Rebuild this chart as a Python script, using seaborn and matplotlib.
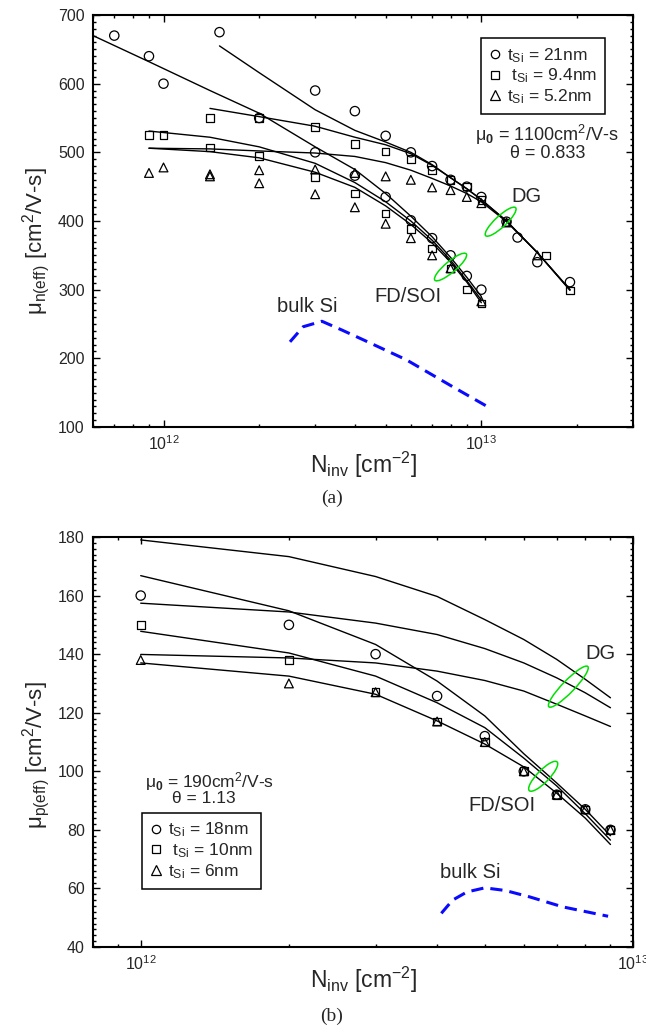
import numpy as np
import matplotlib
matplotlib.use("Agg")
import matplotlib.pyplot as plt
import matplotlib.ticker as mticker
import matplotlib.transforms as mtransforms
from matplotlib.patches import Ellipse
from matplotlib.lines import Line2D
import seaborn as sns

# ---------------- (a) electron mobility ----------------
# measured points, double-gate devices
a_dg21_N = [1.5e12, 3e12, 4e12, 5e12, 6e12, 7e12, 8e12, 9e12, 1e13, 1.2e13, 1.3e13, 1.5e13, 1.9e13]
a_dg21_mu = [675, 590, 560, 524, 500, 480, 460, 450, 435, 399, 376, 340, 311]
a_dg94_N = [1.4e12, 2e12, 3e12, 4e12, 5e12, 6e12, 7e12, 8e12, 9e12, 1e13, 1.2e13, 1.6e13, 1.9e13]
a_dg94_mu = [550, 550, 537, 512, 501, 490, 474, 460, 450, 431, 398, 350, 299]
a_dg52_N = [1.4e12, 2e12, 3e12, 4e12, 5e12, 6e12, 7e12, 8e12, 9e12, 1e13, 1.2e13, 1.5e13]
a_dg52_mu = [468, 474, 475, 470, 465, 460, 449, 445, 435, 426, 398, 350]
# measured points, FD/SOI devices
a_fd21_N = [7e11, 9e11, 1e12, 2e12, 3e12, 4e12, 5e12, 6e12, 7e12, 8e12, 9e12, 1e13]
a_fd21_mu = [670, 640, 600, 550, 500, 466, 435, 401, 375, 350, 320, 300]
a_fd94_N = [9e11, 1e12, 1.4e12, 2e12, 3e12, 4e12, 5e12, 6e12, 7e12, 8e12, 9e12, 1e13]
a_fd94_mu = [525, 525, 507, 495, 464, 440, 411, 388, 360, 331, 300, 280]
a_fd52_N = [9e11, 1e12, 1.4e12, 2e12, 3e12, 4e12, 5e12, 6e12, 7e12, 8e12, 1e13]
a_fd52_mu = [470, 478, 465, 455, 439, 420, 396, 375, 350, 331, 283]
# model curves
a_fit_dg21_N = [1.5e12, 2e12, 3e12, 4e12, 5e12, 6e12, 7e12, 8e12, 9e12, 1e13, 1.2e13, 1.5e13, 1.9e13]
a_fit_dg21_mu = [655, 616, 562, 532, 515, 500, 482, 463, 447, 431, 400, 354, 300]
a_fit_dg94_N = [1.4e12, 2e12, 3e12, 4e12, 5e12, 6e12, 7e12, 8e12, 9e12, 1e13, 1.2e13, 1.5e13, 1.9e13]
a_fit_dg94_mu = [564, 552, 538, 522, 511, 498, 481, 463, 447, 431, 400, 354, 300]
a_fit_dg52_N = [9e11, 1.4e12, 2e12, 3e12, 4e12, 5e12, 6e12, 7e12, 8e12, 9e12, 1e13, 1.2e13, 1.5e13, 1.9e13]
a_fit_dg52_mu = [506, 505, 502, 499, 494, 485, 474, 462, 451, 440, 428, 399, 354, 299]
a_fit_fd21_N = [6e11, 9e11, 1.4e12, 2e12, 3e12, 4e12, 5e12, 6e12, 7e12, 8e12, 9e12, 1e13]
a_fit_fd21_mu = [670, 632, 590, 557, 508, 475, 440, 407, 377, 347, 318, 290]
a_fit_fd94_N = [9e11, 1.4e12, 2e12, 3e12, 4e12, 5e12, 6e12, 7e12, 8e12, 9e12, 1e13]
a_fit_fd94_mu = [531, 522, 508, 484, 456, 428, 400, 372, 343, 313, 285]
a_fit_fd52_N = [9e11, 1.4e12, 2e12, 3e12, 4e12, 5e12, 6e12, 7e12, 8e12, 9e12, 1e13]
a_fit_fd52_mu = [506, 501, 492, 471, 449, 422, 395, 368, 340, 311, 281]
# universal bulk curve
a_bulk_N = [2.5e12, 2.75e12, 3.15e12, 3.65e12, 4.25e12, 5.8e12, 8.1e12, 1.07e13]
a_bulk_mu = [224, 246, 254, 241, 227, 198, 159, 127]
a_labels = ["t$_{\\mathrm{Si}}$ = 21nm", " t$_{\\mathrm{Si}}$ = 9.4nm", "t$_{\\mathrm{Si}}$ = 5.2nm"]

# ---------------- (b) hole mobility ----------------
b_N = [1e12, 2e12, 3e12, 4e12, 5e12, 6e12, 7e12, 8e12, 9e12]
b_18_mu = [160, 150, 140, 125.7, 112, 100, 92, 87, 80]
b_10_mu = [150, 138, 127, 117, 110, 100, 92, 87, 80]
b_6_mu = [138, 130, 127, 117, 110, 100, 92, 87, 80]
b_fit_dg18 = [179, 173.3, 166.5, 159.7, 151.8, 145, 138.2, 131.4, 125.1]
b_fit_dg10 = [157.4, 154.4, 150.6, 146.7, 141.9, 137, 131.9, 126.8, 121.7]
b_fit_dg6 = [139.9, 138.7, 137, 134.2, 131, 127.4, 122.9, 118.9, 115.3]
b_fit_fd18 = [166.8, 154.8, 143.3, 130.8, 118.9, 106, 96, 87, 78]
b_fit_fd10 = [147.8, 140.4, 132.5, 123.4, 114.9, 104.5, 95, 85.5, 76.5]
b_fit_fd6 = [137, 132.5, 126.3, 117.2, 109.3, 101.5, 92.5, 84, 75]
b_bulk_N = [4.08e12, 4.3e12, 4.6e12, 5e12, 5.5e12, 6.17e12, 7.2e12, 8.9e12]
b_bulk_mu = [51.5, 56, 58.8, 60.2, 59.3, 57.1, 53.7, 50.5]
b_labels = ["t$_{\\mathrm{Si}}$ = 18nm", " t$_{\\mathrm{Si}}$ = 10nm", "t$_{\\mathrm{Si}}$ = 6nm"]

GREEN = "#00e000"
BLUE = "#0a0aff"

sns.set_theme(style="ticks")
plt.rcParams["font.family"] = ["Liberation Sans", "DejaVu Sans"]
plt.rcParams["mathtext.fontset"] = "custom"
plt.rcParams["mathtext.rm"] = "Liberation Sans"
plt.rcParams["mathtext.it"] = "Liberation Sans:italic"
plt.rcParams["mathtext.bf"] = "Liberation Sans:bold"
plt.rcParams["axes.linewidth"] = 1.5

fig = plt.figure(figsize=(6.46, 10.32), dpi=100)
ax_a = fig.add_axes([93 / 646, 1 - 427 / 1032, 540 / 646, 412 / 1032])
ax_b = fig.add_axes([93 / 646, 1 - 947 / 1032, 540 / 646, 410 / 1032])

MK = dict(o=45, s=30)
MK["^"] = 40


def markers(ax, x, y, m):
    sns.scatterplot(x=x, y=y, ax=ax, marker=m, s=MK[m], facecolor="none",
                    edgecolor="black", linewidth=0.9, zorder=3)


def curve(ax, x, y):
    sns.lineplot(x=x, y=y, ax=ax, color="black", lw=1.0, estimator=None,
                 sort=False, zorder=2)


def bulk(ax, x, y):
    sns.lineplot(x=x, y=y, ax=ax, color=BLUE, lw=2.2, estimator=None,
                 sort=False, linestyle=(0, (4, 2.3)), zorder=2)


def ring(ax, x, y, length, width, angle):
    tr = mtransforms.Affine2D() + mtransforms.ScaledTranslation(x, y, ax.transData)
    ax.add_patch(Ellipse((0, 0), length, width, angle=angle, transform=tr,
                         fill=False, ec=GREEN, lw=1.1, zorder=4))


def style_axes(ax, ymin, ymax, ymajor, yminor, xmin, xmax):
    ax.set_xscale("log")
    ax.set_xlim(xmin, xmax)
    ax.set_ylim(ymin, ymax)
    ax.xaxis.set_major_locator(mticker.LogLocator(base=10, numticks=10))
    ax.xaxis.set_minor_locator(mticker.LogLocator(base=10, subs=np.arange(2, 10), numticks=20))
    ax.xaxis.set_minor_formatter(mticker.NullFormatter())
    ax.yaxis.set_major_locator(mticker.MultipleLocator(ymajor))
    ax.yaxis.set_minor_locator(mticker.MultipleLocator(yminor))
    ax.tick_params(which="both", direction="in", top=True, right=True,
                   width=1.0, color="black")
    ax.tick_params(which="major", length=5, labelsize=11.5)
    ax.tick_params(which="minor", length=2.5)
    ax.tick_params(axis="y", pad=6)
    ax.tick_params(axis="x", pad=5)
    for sp in ax.spines.values():
        sp.set_linewidth(1.5)
        sp.set_color("black")
        sp.set_visible(True)
    ax.set_facecolor("white")
    ax.grid(False)


def legend(ax, labels, anchor):
    handles = [Line2D([], [], marker=m, ls="none", mfc="none", mec="black",
                      ms=sz, mew=0.9) for m, sz in zip(["o", "s", "^"], [6, 5.5, 6.5])]
    leg = ax.legend(handles, labels, loc="upper left", bbox_to_anchor=anchor,
                    fontsize=12.5, frameon=True, fancybox=False, framealpha=1,
                    handlelength=0.7, handletextpad=0.35, borderpad=0.45,
                    labelspacing=0.12, borderaxespad=0)
    leg.get_frame().set_edgecolor("black")
    leg.get_frame().set_linewidth(1.1)


# ---------- panel (a) ----------
ax = ax_a
style_axes(ax, 100, 700, 100, 10, 6e11, 3e13)
for xs, ys in [(a_fit_dg21_N, a_fit_dg21_mu), (a_fit_dg94_N, a_fit_dg94_mu),
               (a_fit_dg52_N, a_fit_dg52_mu), (a_fit_fd21_N, a_fit_fd21_mu),
               (a_fit_fd94_N, a_fit_fd94_mu), (a_fit_fd52_N, a_fit_fd52_mu)]:
    curve(ax, xs, ys)
markers(ax, a_dg21_N, a_dg21_mu, "o")
markers(ax, a_fd21_N, a_fd21_mu, "o")
markers(ax, a_dg94_N, a_dg94_mu, "s")
markers(ax, a_fd94_N, a_fd94_mu, "s")
markers(ax, a_dg52_N, a_dg52_mu, "^")
markers(ax, a_fd52_N, a_fd52_mu, "^")
bulk(ax, a_bulk_N, a_bulk_mu)
ring(ax, 1.15e13, 399, 41, 11, 43)
ring(ax, 8.0e12, 333, 41, 11, 40)
ax.text(1.24e13, 435, "DG", fontsize=14.5, ha="left", va="center")
ax.text(4.6e12, 290, "FD/SOI", fontsize=14.5, ha="left", va="center")
ax.text(2.28e12, 275, "bulk Si", fontsize=14.5, ha="left", va="center")
ax.text(0.840, 0.709, "\u03bc$_{\\mathbf{0}}$ = 1100cm$^{2}$/V-s", transform=ax.transAxes,
        fontsize=13, ha="center", va="center")
ax.text(0.842, 0.664, "\u03b8 = 0.833", transform=ax.transAxes,
        fontsize=13, ha="center", va="center")
legend(ax, a_labels, (0.7185, 0.944))
ax.set_xlabel("N$_{\\mathrm{inv}}$ [cm$^{-2}$]", fontsize=16.5, va="center")
ax.xaxis.set_label_coords(0.5, -0.092)
ax.set_ylabel("\u03bc$_{\\mathrm{n(eff)}}$ [cm$^{2}$/V-s]", fontsize=16, va="center")
ax.yaxis.set_label_coords(-0.1056, 0.4515)

# ---------- panel (b) ----------
ax = ax_b
style_axes(ax, 40, 180, 20, 2, 8e11, 1e13)
for ys in [b_fit_dg18, b_fit_dg10, b_fit_dg6, b_fit_fd18, b_fit_fd10, b_fit_fd6]:
    curve(ax, b_N, ys)
markers(ax, b_N, b_18_mu, "o")
markers(ax, b_N, b_10_mu, "s")
markers(ax, b_N, b_6_mu, "^")
bulk(ax, b_bulk_N, b_bulk_mu)
ring(ax, 7.39e12, 128.9, 56, 12, 46)
ring(ax, 6.57e12, 98.3, 40, 12, 46)
ax.text(8.0e12, 140.3, "DG", fontsize=14.5, ha="left", va="center")
ax.text(4.62e12, 88.3, "FD/SOI", fontsize=14.5, ha="left", va="center")
ax.text(4.05e12, 65.5, "bulk Si", fontsize=14.5, ha="left", va="center")
ax.text(0.215, 0.404, "\u03bc$_{\\mathbf{0}}$ = 190cm$^{2}$/V-s", transform=ax.transAxes,
        fontsize=12.5, ha="center", va="center")
ax.text(0.205, 0.362, "\u03b8 = 1.13", transform=ax.transAxes,
        fontsize=12.5, ha="center", va="center")
legend(ax, b_labels, (0.0907, 0.327))
ax.set_xlabel("N$_{\\mathrm{inv}}$ [cm$^{-2}$]", fontsize=16.5, va="center")
ax.xaxis.set_label_coords(0.5, -0.0805)
ax.set_ylabel("\u03bc$_{\\mathrm{p(eff)}}$ [cm$^{2}$/V-s]", fontsize=16, va="center")
ax.yaxis.set_label_coords(-0.1056, 0.468)

fig.text(332 / 646, 1 - 498 / 1032, "(a)", fontsize=14, family="Liberation Serif",
         ha="center", va="center")
fig.text(332 / 646, 1 - 1016 / 1032, "(b)", fontsize=14, family="Liberation Serif",
         ha="center", va="center")

fig.savefig("out.png", dpi=100, facecolor="white")
